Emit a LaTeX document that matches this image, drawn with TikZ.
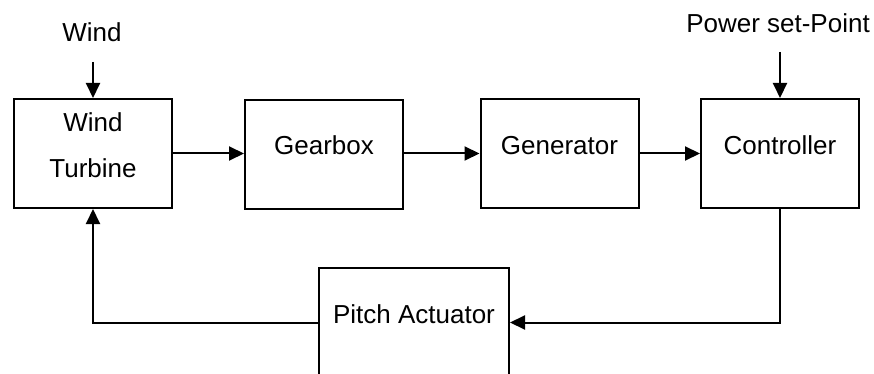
\documentclass[tikz,border=0pt]{standalone}
\usepackage{fontspec}
\setmainfont{Liberation Sans}
\usetikzlibrary{arrows.meta}
\begin{document}
\begin{tikzpicture}[x=1pt,y=-1pt,
  every node/.style={font=\fontsize{26}{31}\selectfont},
  block/.style={draw,line width=2pt,minimum width=158pt,minimum height=109pt,
    inner sep=0pt,text height=10pt,text depth=9pt},
  tag/.style={inner sep=0pt,anchor=base},
  arr/.style={line width=2pt,-{Triangle[length=15pt,width=14pt]}}]
  \useasboundingbox (0,0) rectangle (874,374);
  \clip (0,0) rectangle (874,374);

  % inputs
  \node[tag] (windin) at (92,42) {Wind};
  \node[tag] (setpt) at (778,33) {Power set-Point};

  % forward chain
  \node[block,align=center,text height=58pt,text depth=9pt] (turb) at (93,153.5) {Wind\\[16pt]Turbine};
  \node[block] (gear) at (324,154.5) {Gearbox};
  \node[block] (gen) at (559.5,153.5) {Generator};
  \node[block] (ctrl) at (780,153.5) {Controller};

  % feedback block
  \node[block,minimum width=190pt,minimum height=110pt] (pitch) at (414,322.5) {Pitch Actuator};

  % connectors
  \draw[arr,shorten <=20pt] (windin.base -| turb.north) -- (turb.north);
  \draw[arr,shorten <=19pt] (setpt.base -| ctrl.north) -- (ctrl.north);
  \draw[arr] (turb.east) -- (gear.west |- turb.east);
  \draw[arr] (gear.east |- gen.west) -- (gen.west);
  \draw[arr] (gen.east) -- (ctrl.west);
  \draw[arr] (ctrl.south) |- (pitch.east);
  \draw[arr] (pitch.west) -| (turb.south);
\end{tikzpicture}
\end{document}
